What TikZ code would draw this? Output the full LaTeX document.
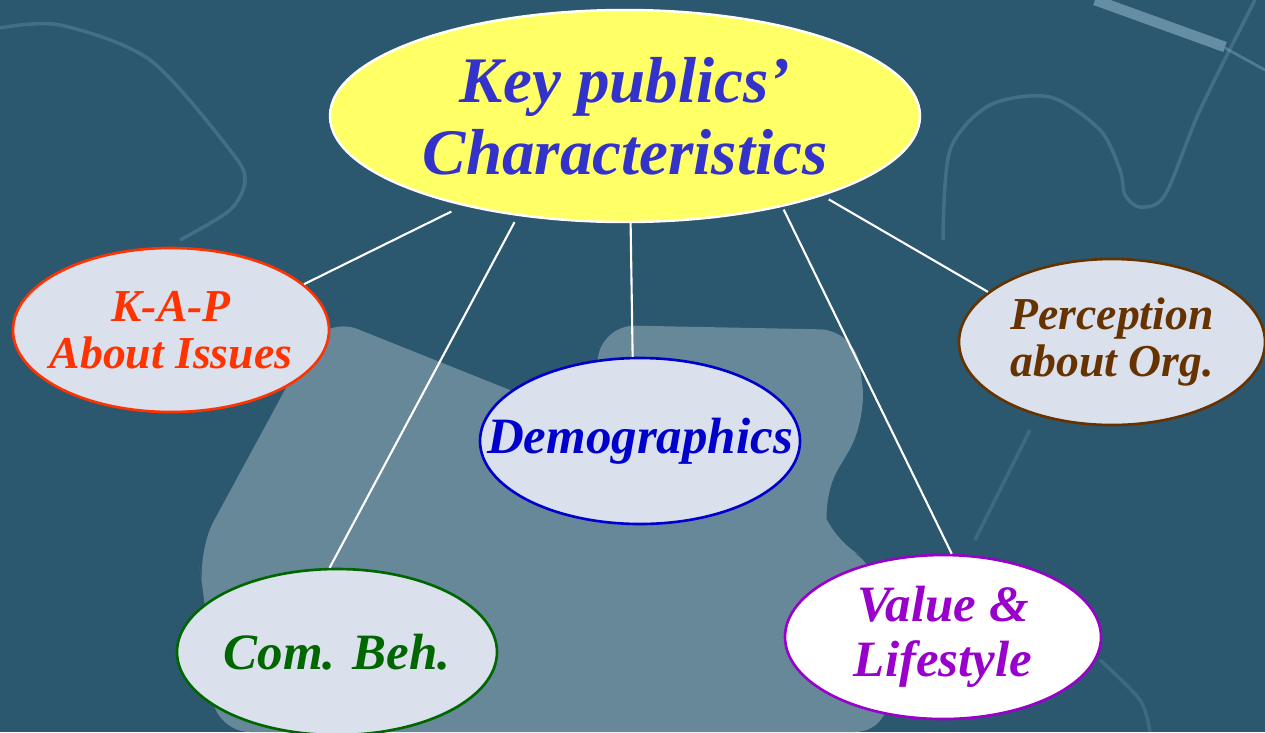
\documentclass[tikz,border=0pt]{standalone}
\usepackage{fontspec}
\setmainfont{Liberation Serif}
\usepackage{tikz}
\usepackage{xcolor}
\definecolor{bgcolor}{HTML}{2B576F}
\definecolor{piececolor}{HTML}{678898}
\definecolor{glowcolor}{HTML}{8DB3C8}
\definecolor{bubblecolor}{HTML}{DAE0EC}
\definecolor{keycolor}{HTML}{FFFF66}
\definecolor{keytextcolor}{HTML}{3333CC}
\definecolor{kapcolor}{HTML}{FF3300}
\definecolor{perccolor}{HTML}{663300}
\definecolor{democolor}{HTML}{0000CC}
\definecolor{comcolor}{HTML}{006600}
\definecolor{valuecolor}{HTML}{9900CC}
\usetikzlibrary{
  shapes.geometric,
}

\begin{document}
\begin{tikzpicture}
	\tikzstyle{every node}=[font=\bfseries\itshape]
	\tikzstyle{bubble}=[ellipse, draw, line width=0.75pt, fill=bubblecolor, inner xsep=-20pt, inner ysep=-10pt, align=center]
	\tikzstyle{small}=[font=\fontsize{13}{13.4}\selectfont\bfseries\itshape]
	\tikzstyle{large}=[font=\fontsize{14.5}{15.6}\selectfont\bfseries\itshape]
	\tikzstyle{link}=[white, line width=0.6pt]
	\tikzstyle{glow}=[glowcolor, opacity=0.25, line width=1pt]
	% background
	\useasboundingbox (0,0) rectangle (12.65,7.32);
	\fill[bgcolor] (0,0) rectangle (12.65,7.32);
	\fill[piececolor, rounded corners=10pt] (3.25,4.16) -- (5.60,3.22) -- (5.95,3.32) -- (6.00,4.07) -- (8.55,4.02)
		-- (8.67,3.12) -- (8.20,2.32) -- (8.30,1.92) -- (8.80,1.67) -- (8.90,0) -- (2.15,0) -- (2.05,1.32) -- (1.97,1.80) -- cycle;
	\draw[glow] plot[smooth] coordinates {(0,7.04) (0.6,7.07) (1.5,6.72) (2.3,5.82) (2.45,5.52) (2.3,5.22) (1.8,4.92)};
	\draw[glow] plot[smooth] coordinates {(9.43,4.92) (9.50,5.82) (9.90,6.27) (10.50,6.35) (11.00,6.02) (11.20,5.62) (11.25,5.37) (11.40,5.25) (11.65,5.37) (12.00,6.22) (12.55,7.32)};
	\draw[glowcolor, opacity=0.6, line width=3pt] (10.95,7.32) -- (12.25,6.85);
	\draw[glowcolor, opacity=0.4, line width=0.8pt] (12.25,6.84) -- (12.65,6.62);
	\draw[glow, opacity=0.2] (10.30,3.02) -- (9.75,1.92);
	\draw[glow, opacity=0.2] plot[smooth] coordinates {(11.00,0.72) (11.40,0.32) (11.50,0)};
	% centre
	\node (key)[ellipse, draw=white, line width=0.7pt, fill=keycolor, text=keytextcolor, minimum width=5.9cm, minimum height=2.12cm, inner sep=0pt, align=center,
		font=\fontsize{18.5}{20.5}\selectfont\bfseries\itshape] at (6.25,6.16) {Key publics’\\Characteristics};
	% characteristics
	\node (kap)[bubble, small, draw=kapcolor, text=kapcolor, minimum width=3.16cm, minimum height=1.64cm] at (1.71,4.02) {K-A-P\\About Issues};
	\node (perc)[bubble, small, draw=perccolor, text=perccolor, minimum width=3.06cm, minimum height=1.66cm] at (11.12,3.90) {Perception\\about Org.};
	\node (demo)[bubble, large, draw=democolor, text=democolor, minimum width=3.20cm, minimum height=1.66cm] at (6.40,2.91) {Demographics};
	\node (com)[bubble, large, draw=comcolor, text=comcolor, minimum width=3.20cm, minimum height=1.66cm] at (3.37,0.80) {Com. Beh.};
	\node (value)[bubble, large, draw=valuecolor, fill=white, text=valuecolor, minimum width=3.16cm, minimum height=1.64cm] at (9.43,0.95) {Value \&\\Lifestyle};
	% links
	\draw [link, shorten <=1.3mm] (key.209) -- (kap.19);
	\draw [link, shorten <=0.7mm] (key.223) -- (com.95);
	\draw [link] (key.273) -- (demo.95);
	\draw [link, shorten <=0.3mm] (key.330) -- (value.84);
	\draw [link, shorten <=0.7mm] (key.338) -- (perc.158);
\end{tikzpicture}
\end{document}
